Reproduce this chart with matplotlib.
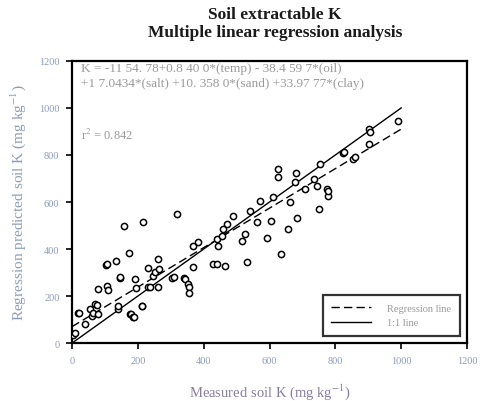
import numpy as np
import matplotlib.pyplot as plt

# Measured vs regression-predicted soil K (mg kg-1)
measured = [4, 9, 19, 21, 39, 55, 60, 65, 70, 75, 78, 80, 102, 105, 107, 108,
            134, 141, 141, 146, 146, 159, 174, 176, 178, 186, 189, 190, 193,
            212, 214, 215, 230, 232, 237, 247, 252, 262, 262, 265, 305, 311,
            318, 341, 343, 351, 354, 356, 368, 368, 384, 429, 440, 440, 445,
            455, 460, 465, 470, 490, 515, 526, 531, 541, 561, 571, 591, 604,
            612, 627, 627, 635, 655, 662, 677, 680, 683, 708, 735, 743, 751,
            753, 774, 779, 779, 824, 826, 855, 860, 903, 905, 903, 989]
predicted = [35, 45, 130, 128, 81, 145, 116, 130, 166, 162, 230, 123, 333, 336,
             241, 227, 349, 145, 156, 278, 280, 497, 383, 123, 123, 109, 109,
             271, 233, 159, 159, 516, 237, 318, 237, 286, 303, 237, 357, 315,
             278, 280, 549, 275, 272, 251, 237, 211, 414, 322, 428, 336, 443,
             336, 414, 457, 485, 329, 506, 542, 435, 464, 343, 563, 514, 606,
             449, 520, 620, 740, 705, 379, 485, 598, 684, 723, 534, 655, 698,
             669, 570, 762, 655, 627, 648, 808, 811, 785, 790, 911, 899, 847,
             946]

reg_intercept = 70
reg_slope = 0.84

eq_line1 = "K = -11 54. 78+0.8 40 0*(temp) - 38.4 59 7*(oil)"
eq_line2 = "+1 7.0434*(salt) +10. 358 0*(sand) +33.97 77*(clay)"

grey = "#9a9a9a"
tick_col = "#8c9cb8"

plt.rcParams["font.family"] = ["Liberation Serif", "DejaVu Serif"]
plt.rcParams["mathtext.fontset"] = "stix"

fig = plt.figure(figsize=(4.8, 4.02), dpi=100)
ax = fig.add_axes([0.15, 0.144, 0.823, 0.702])

line_x = np.array([0, 1000])
ax.plot(line_x, reg_intercept + reg_slope * line_x, color="black",
        linestyle=(0, (6, 3)), linewidth=1.0, label="Regression line")
ax.plot(line_x, line_x, color="black", linewidth=1.0, label="1:1 line")
ax.scatter(measured, predicted, s=20, facecolors="white", edgecolors="black",
           linewidths=1.1, zorder=3)

ax.set_xlim(0, 1200)
ax.set_ylim(0, 1200)
ax.set_xticks(np.arange(0, 1201, 200))
ax.set_yticks(np.arange(0, 1201, 200))
ax.tick_params(direction="out", length=4, width=1.2, labelsize=7.5,
               colors="black", pad=5)
for lbl in ax.get_xticklabels() + ax.get_yticklabels():
    lbl.set_color(tick_col)
for sp in ax.spines.values():
    sp.set_linewidth(1.6)

ax.set_xlabel("Measured soil K (mg kg$^{-1}$)", fontsize=10.5, color="#8a7c9c",
              labelpad=12)
ax.set_ylabel("Regression predicted soil K (mg kg$^{-1}$)", fontsize=11,
              color="#8c9cb8", labelpad=8)

ax.text(0.022, 0.995, eq_line1 + "\n" + eq_line2, transform=ax.transAxes,
        fontsize=9.5, color=grey, va="top", linespacing=1.3)
ax.text(0.022, 0.765, "r$^2$ = 0.842", transform=ax.transAxes, fontsize=9,
        color=grey, va="top")

leg = ax.legend(loc="lower right", fontsize=7.5, frameon=True, fancybox=False,
                edgecolor="black", handlelength=3.8, borderpad=0.8,
                handletextpad=1.6, bbox_to_anchor=(0.995, 0.008))
leg.get_frame().set_linewidth(1.6)
for t in leg.get_texts():
    t.set_color(grey)

fig.text(0.573, 0.962, "Soil extractable K", ha="center", va="center",
         fontsize=12.5, fontweight="bold", color="#1a1a1a")
fig.text(0.573, 0.918, "Multiple linear regression analysis", ha="center",
         va="center", fontsize=12.5, fontweight="bold", color="#1a1a1a")

fig.savefig("out.png", dpi=100)
